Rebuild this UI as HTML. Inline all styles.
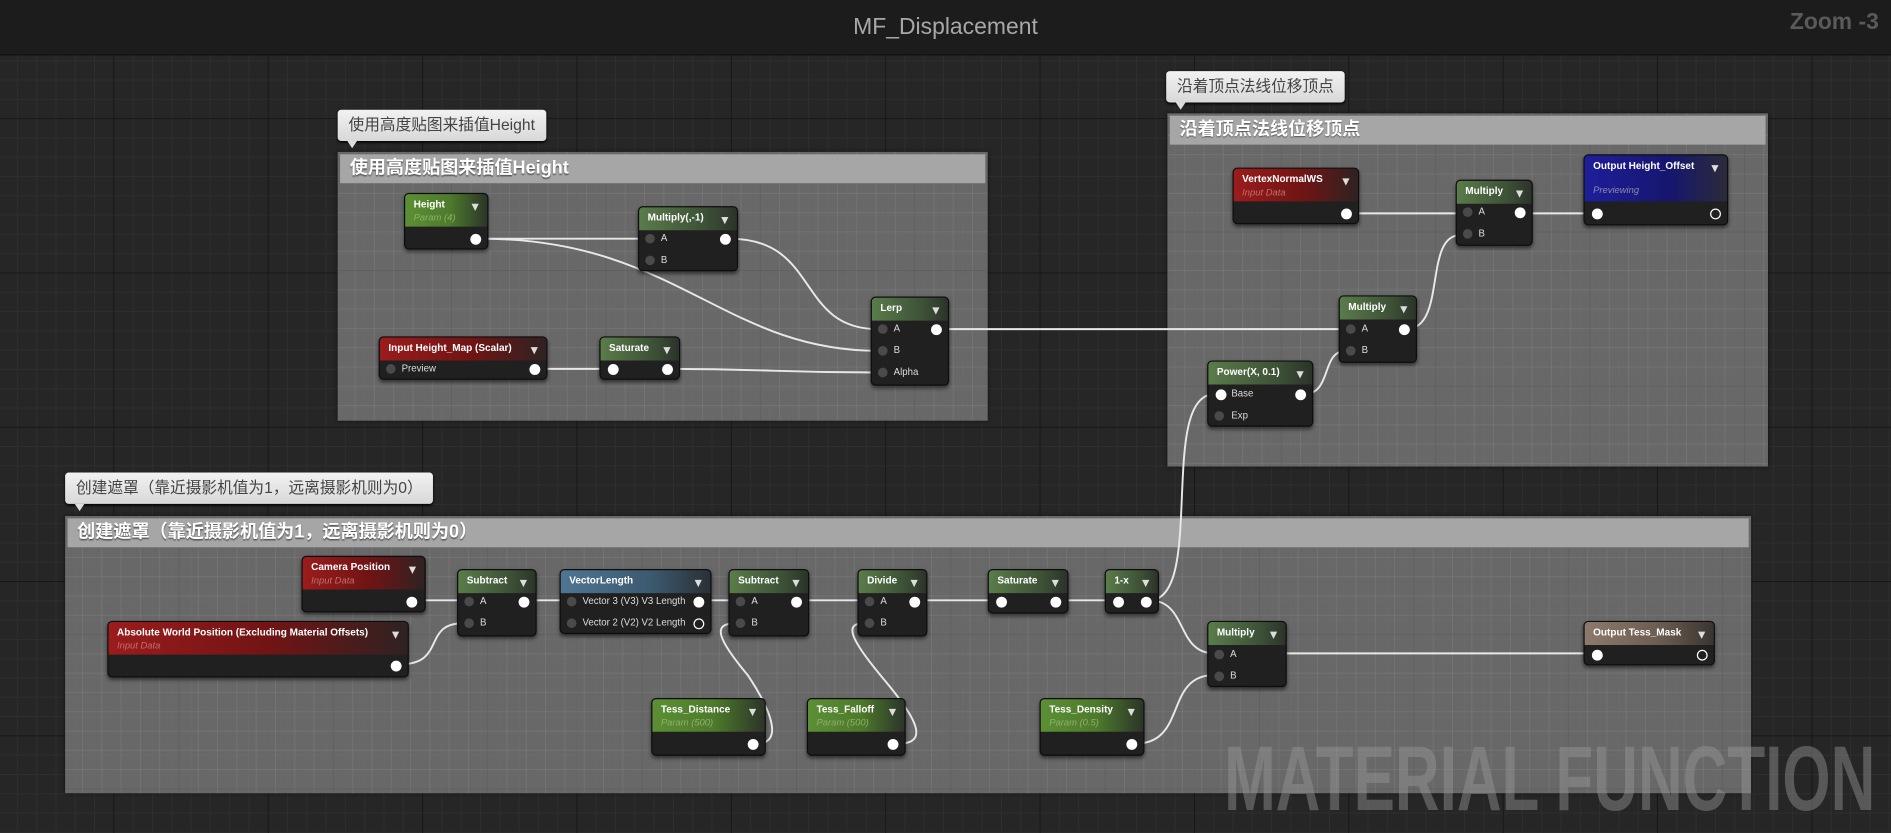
<!DOCTYPE html>
<html><head><meta charset="utf-8"><style>
*{margin:0;padding:0;box-sizing:border-box}
html,body{width:1891px;height:833px;overflow:hidden;background:#262626}
#w{position:absolute;left:0;top:0;width:1568px;height:691px;transform-origin:0 0;transform:scale(1.20599,1.2055);
font-family:"Liberation Sans","Noto Sans CJK SC",sans-serif;overflow:hidden;
background-color:#262626;
background-image:linear-gradient(#161616 1px,transparent 1px),linear-gradient(90deg,#161616 1px,transparent 1px),linear-gradient(#2e2e2e 1px,transparent 1px),linear-gradient(90deg,#2e2e2e 1px,transparent 1px);
background-size:128px 128px,128px 128px,16px 16px,16px 16px;background-position:-34px -30px,-34px -30px,-34px -30px,-34px -30px}
#title{position:absolute;left:0;top:0;width:1568px;height:46px;background:#1c1c1c;border-bottom:1px solid #111;color:#a8a8a8;font-size:19px;text-align:center;line-height:46px}
#zoom{position:absolute;right:10px;top:8px;color:#5a5a5a;font-weight:bold;font-size:19px}
.cm{position:absolute;background-color:rgba(120,120,120,.82);
background-image:linear-gradient(rgba(60,60,60,.35) 1px,transparent 1px),linear-gradient(90deg,rgba(60,60,60,.35) 1px,transparent 1px),linear-gradient(rgba(140,140,140,.3) 1px,transparent 1px),linear-gradient(90deg,rgba(140,140,140,.3) 1px,transparent 1px);
background-size:128px 128px,128px 128px,16px 16px,16px 16px;background-position:-34px -30px;box-shadow:0 0 3px #111}
.cm .h{position:absolute;left:2px;right:2px;top:2px;height:24px;background:#a6a6a6;color:#fff;font-size:15px;font-weight:bold;line-height:24px;padding-left:8px;text-shadow:0 1px 1px #555}
.bub{position:absolute;height:26px;background:linear-gradient(#f2f2f2,#d8d8d8);border-radius:3px;color:#444;font-size:13px;line-height:26px;padding:0 9px;box-shadow:0 1px 2px #000}
.bub:after{content:"";position:absolute;left:8px;bottom:-6px;border:4px solid transparent;border-top:6px solid #ddd;border-bottom:0}
.n{position:absolute;background:#1f201f;border:1px solid #0d0d0d;border-radius:4px;box-shadow:0 2px 3px rgba(0,0,0,.5);color:#e6e6e6}
.n .t{position:absolute;left:0;right:0;top:0;height:19px;border-radius:3px 3px 0 0;padding:3px 0 0 7px;font-weight:bold;font-size:8.3px;color:#fff;white-space:nowrap}
.n .t.s{height:27px}
.n .t i{display:block;font-weight:normal;font-size:7.8px;margin-top:2px}
.n .t:after{content:"";position:absolute;right:7px;top:8px;border:3.5px solid transparent;border-top:6px solid #ddd;border-bottom:0}
.g{background:linear-gradient(90deg,#5a7c4a,#3b4f35 70%,#2c332a)}
.gp{background:linear-gradient(90deg,#5c8f35,#4d7a2b 55%,#2c3429)}
.gp i{color:#8fb06a}
.r{background:linear-gradient(90deg,#9b1c1c,#701414 55%,#2f2222)}
.r i{color:#c07070}
.b{background:linear-gradient(90deg,#1e1e9a,#16166e 60%,#2b2b3a)}
.b i{color:#8a8ab0}
.bl{background:linear-gradient(90deg,#4f7592,#3c5a70 60%,#2a3035)}
.br{background:linear-gradient(90deg,#8d7a6c,#6a5b50 60%,#3a3430)}
.p{position:absolute;font-size:8px;color:#ddd;white-space:nowrap}
.d{position:absolute;width:8px;height:8px;border-radius:50%;background:#4a4a4a}
.o{position:absolute;width:9px;height:9px;border-radius:50%;background:#fff}
.oh{position:absolute;width:9px;height:9px;border-radius:50%;border:1.5px solid #fff}
svg{position:absolute;left:0;top:0}
</style></head><body><div id="w">
<div id="title">MF_Displacement</div><div id="zoom">Zoom -3</div>

<div class="cm" style="left:280px;top:126px;width:539px;height:223px"><div class="h">使用高度贴图来插值Height</div></div>
<div class="bub" style="left:280px;top:91px">使用高度贴图来插值Height</div>
<div class="cm" style="left:968px;top:94px;width:498px;height:293px"><div class="h">沿着顶点法线位移顶点</div></div>
<div class="bub" style="left:967px;top:59px">沿着顶点法线位移顶点</div>
<div class="cm" style="left:54px;top:428px;width:1398px;height:230px"><div class="h">创建遮罩（靠近摄影机值为1，远离摄影机则为0）</div></div>
<div class="bub" style="left:54px;top:392px">创建遮罩（靠近摄影机值为1，远离摄影机则为0）</div>

<svg width="1568" height="691"><text x="1015" y="672" textLength="540" lengthAdjust="spacingAndGlyphs" font-family="Liberation Sans, sans-serif" font-weight="bold" font-size="76" fill="rgba(150,150,150,0.45)">MATERIAL FUNCTION</text></svg>

<svg width="1568" height="691" fill="none" stroke="#e8e8e8" stroke-width="1.6">
<path d="M399 198 C460 198 480 198 535 198"/>
<path d="M399 198 C560 198 600 291 728 291"/>
<path d="M605 198 C680 198 660 273 728 273"/>
<path d="M446 306 C470 306 480 306 503 306"/>
<path d="M552 306 C640 306 640 309 728 309"/>
<path d="M780 273 C950 273 950 273 1116 273"/>
<path d="M1120 177 C1160 177 1170 177 1211 177"/>
<path d="M1166 273 C1200 273 1180 195 1211 195"/>
<path d="M1263 177 C1290 177 1300 177 1319 177"/>
<path d="M1081 327 C1105 327 1095 291 1116 291"/>
<path d="M953 498 C1000 498 960 327 1007 327"/>
<path d="M953 498 C985 498 975 542 1007 542"/>
<path d="M344 498 C360 498 370 498 384 498"/>
<path d="M332 551 C370 551 350 517 384 517"/>
<path d="M438 498 C455 498 455 498 470 498"/>
<path d="M582 498 C595 498 600 498 610 498"/>
<path d="M627 617 C650 617 640 590 620 560 C595 530 590 517 610 517"/>
<path d="M662 498 C690 498 690 498 716 498"/>
<path d="M744 617 C775 617 755 590 730 560 C705 530 700 517 716 517"/>
<path d="M761 498 C790 498 800 498 825 498"/>
<path d="M877 498 C900 498 905 498 921 498"/>
<path d="M941 617 C985 617 965 560 1007 560"/>
<path d="M1061 542 C1200 542 1200 542 1319 542"/>
</svg>

<div class="n" style="left:335px;top:160px;width:70px;height:47px"><div class="t s gp">Height<i>Param (4)</i></div><div class="o" style="left:54px;top:33px"></div></div>
<div class="n" style="left:529px;top:171px;width:83px;height:54px"><div class="t g">Multiply(,-1)</div>
<div class="d" style="left:5px;top:22px"></div><div class="p" style="left:18px;top:21px">A</div><div class="o" style="left:67px;top:22px"></div>
<div class="d" style="left:5px;top:40px"></div><div class="p" style="left:18px;top:39px">B</div></div>
<div class="n" style="left:722px;top:246px;width:65px;height:74px"><div class="t g">Lerp</div>
<div class="d" style="left:5px;top:22px"></div><div class="p" style="left:18px;top:21px">A</div><div class="o" style="left:49px;top:22px"></div>
<div class="d" style="left:5px;top:40px"></div><div class="p" style="left:18px;top:39px">B</div>
<div class="d" style="left:5px;top:58px"></div><div class="p" style="left:18px;top:57px">Alpha</div></div>
<div class="n" style="left:314px;top:279px;width:140px;height:36px"><div class="t r">Input Height_Map (Scalar)</div>
<div class="d" style="left:5px;top:22px"></div><div class="p" style="left:18px;top:21px">Preview</div><div class="o" style="left:124px;top:22px"></div></div>
<div class="n" style="left:497px;top:279px;width:67px;height:36px"><div class="t g">Saturate</div>
<div class="o" style="left:6px;top:22px"></div><div class="o" style="left:51px;top:22px"></div></div>
<div class="n" style="left:1022px;top:139px;width:105px;height:47px"><div class="t s r">VertexNormalWS<i>Input Data</i></div><div class="o" style="left:89px;top:33px"></div></div>
<div class="n" style="left:1207px;top:149px;width:64px;height:55px"><div class="t g">Multiply</div>
<div class="d" style="left:5px;top:22px"></div><div class="p" style="left:18px;top:21px">A</div><div class="o" style="left:48px;top:22px"></div>
<div class="d" style="left:5px;top:40px"></div><div class="p" style="left:18px;top:39px">B</div></div>
<div class="n" style="left:1313px;top:128px;width:120px;height:59px"><div class="t b" style="height:38px">Output Height_Offset<i style="margin-top:11px">Previewing</i></div>
<div class="o" style="left:6px;top:44px"></div><div class="oh" style="left:104px;top:44px"></div></div>
<div class="n" style="left:1110px;top:245px;width:65px;height:56px"><div class="t g">Multiply</div>
<div class="d" style="left:5px;top:23px"></div><div class="p" style="left:18px;top:22px">A</div><div class="o" style="left:49px;top:23px"></div>
<div class="d" style="left:5px;top:41px"></div><div class="p" style="left:18px;top:40px">B</div></div>
<div class="n" style="left:1001px;top:299px;width:88px;height:55px"><div class="t g">Power(X, 0.1)</div>
<div class="o" style="left:6px;top:23px"></div><div class="p" style="left:19px;top:22px">Base</div><div class="o" style="left:72px;top:23px"></div>
<div class="d" style="left:5px;top:41px"></div><div class="p" style="left:19px;top:40px">Exp</div></div>
<div class="n" style="left:250px;top:461px;width:103px;height:47px"><div class="t s r">Camera Position<i>Input Data</i></div><div class="o" style="left:86px;top:33px"></div></div>
<div class="n" style="left:89px;top:515px;width:250px;height:47px"><div class="t s r">Absolute World Position (Excluding Material Offsets)<i>Input Data</i></div><div class="o" style="left:234px;top:32px"></div></div>
<div class="n" style="left:379px;top:472px;width:66px;height:56px"><div class="t g">Subtract</div>
<div class="d" style="left:5px;top:22px"></div><div class="p" style="left:18px;top:21px">A</div><div class="o" style="left:50px;top:22px"></div>
<div class="d" style="left:5px;top:40px"></div><div class="p" style="left:18px;top:39px">B</div></div>
<div class="n" style="left:464px;top:472px;width:126px;height:54px"><div class="t bl">VectorLength</div>
<div class="d" style="left:5px;top:22px"></div><div class="p" style="left:18px;top:21px">Vector 3 (V3) V3 Length</div><div class="o" style="left:110px;top:22px"></div>
<div class="d" style="left:5px;top:40px"></div><div class="p" style="left:18px;top:39px">Vector 2 (V2) V2 Length</div><div class="oh" style="left:110px;top:40px"></div></div>
<div class="n" style="left:604px;top:472px;width:67px;height:56px"><div class="t g">Subtract</div>
<div class="d" style="left:5px;top:22px"></div><div class="p" style="left:18px;top:21px">A</div><div class="o" style="left:51px;top:22px"></div>
<div class="d" style="left:5px;top:40px"></div><div class="p" style="left:18px;top:39px">B</div></div>
<div class="n" style="left:711px;top:472px;width:58px;height:56px"><div class="t g">Divide</div>
<div class="d" style="left:5px;top:22px"></div><div class="p" style="left:18px;top:21px">A</div><div class="o" style="left:42px;top:22px"></div>
<div class="d" style="left:5px;top:40px"></div><div class="p" style="left:18px;top:39px">B</div></div>
<div class="n" style="left:819px;top:472px;width:67px;height:37px"><div class="t g">Saturate</div>
<div class="o" style="left:6px;top:22px"></div><div class="o" style="left:51px;top:22px"></div></div>
<div class="n" style="left:916px;top:472px;width:45px;height:37px"><div class="t g">1-x</div>
<div class="o" style="left:6px;top:22px"></div><div class="o" style="left:29px;top:22px"></div></div>
<div class="n" style="left:1001px;top:515px;width:66px;height:55px"><div class="t g">Multiply</div>
<div class="d" style="left:5px;top:23px"></div><div class="p" style="left:18px;top:22px">A</div>
<div class="d" style="left:5px;top:41px"></div><div class="p" style="left:18px;top:40px">B</div></div>
<div class="n" style="left:1313px;top:515px;width:109px;height:37px"><div class="t br">Output Tess_Mask</div>
<div class="o" style="left:6px;top:23px"></div><div class="oh" style="left:93px;top:23px"></div></div>
<div class="n" style="left:540px;top:579px;width:95px;height:48px"><div class="t s gp">Tess_Distance<i>Param (500)</i></div><div class="o" style="left:79px;top:33px"></div></div>
<div class="n" style="left:669px;top:579px;width:82px;height:48px"><div class="t s gp">Tess_Falloff<i>Param (500)</i></div><div class="o" style="left:66px;top:33px"></div></div>
<div class="n" style="left:862px;top:579px;width:87px;height:48px"><div class="t s gp">Tess_Density<i>Param (0.5)</i></div><div class="o" style="left:71px;top:33px"></div></div>
</div></body></html>
